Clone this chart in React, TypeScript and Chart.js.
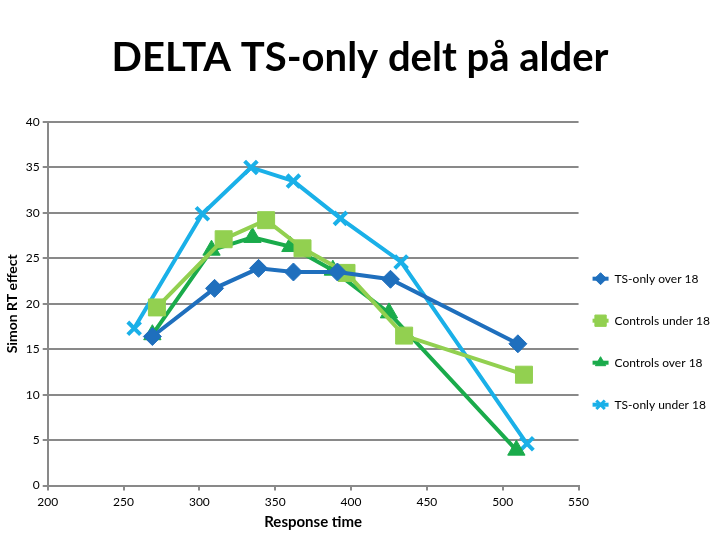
import { useEffect, useRef } from "react";
import Chart from "chart.js/auto";
import { drawPoint } from "chart.js/helpers";

const seriesNames = [
  "TS-only over 18",
  "Controls under 18",
  "Controls over 18",
  "TS-only under 18",
];

// response time (x) and Simon RT effect (y) for each group
const tsOver18X = [269, 310, 339, 362, 391, 426, 510];
const tsOver18Y = [16.4, 21.7, 23.9, 23.5, 23.5, 22.7, 15.6];

const ctrlUnder18X = [272, 316, 344, 368, 397, 435, 514];
const ctrlUnder18Y = [19.6, 27.1, 29.2, 26.1, 23.4, 16.5, 12.2];

const ctrlOver18X = [269, 308, 335, 360, 388, 425, 509];
const ctrlOver18Y = [16.6, 25.9, 27.3, 26.3, 23.7, 19.0, 3.9];

const tsUnder18X = [257, 302, 334, 362, 393, 433, 516];
const tsUnder18Y = [17.3, 29.9, 35.0, 33.5, 29.4, 24.6, 4.6];

const xTicks = [200, 250, 300, 350, 400, 450, 500, 550];
const yTicks = [0, 5, 10, 15, 20, 25, 30, 35, 40];

const toPoints = (xs: number[], ys: number[]) =>
  xs.map((x, i) => ({ x, y: ys[i] }));

// legend boxes are left empty by Chart.js, this draws the excel-like
// "line + marker" sample in each of them
const legendMarkers = {
  id: "legendMarkers",
  afterDraw(chart: any) {
    const legend = chart.legend;
    if (!legend || !legend.legendHitBoxes) return;
    const ctx = chart.ctx;
    const boxW = legend.options.labels.boxWidth;
    legend.legendItems.forEach((item: any, i: number) => {
      const hb = legend.legendHitBoxes[i];
      const ds = chart.data.datasets[item.datasetIndex];
      const cy = hb.top + hb.height / 2;
      const cx = hb.left + boxW / 2;
      ctx.save();
      ctx.strokeStyle = ds.borderColor;
      ctx.lineWidth = 4;
      ctx.beginPath();
      ctx.moveTo(hb.left, cy);
      ctx.lineTo(hb.left + boxW, cy);
      ctx.stroke();
      ctx.fillStyle = ds.backgroundColor;
      ctx.strokeStyle = ds.borderColor;
      ctx.lineWidth = ds.pointStyle === "crossRot" ? 3 : 1;
      drawPoint(ctx, {
        pointStyle: ds.pointStyle,
        radius: ds.pointStyle === "rect" ? 8 : 6,
        rotation: 0,
        borderWidth: ctx.lineWidth,
      }, cx, cy);
      ctx.restore();
    });
  },
};

export default function App() {
  const canvasRef = useRef<HTMLCanvasElement | null>(null);

  useEffect(() => {
    document.body.style.margin = "0";
    if (canvasRef.current == null) return;

    const font = "Lato, 'Open Sans', sans-serif";
    const chart = new Chart(canvasRef.current, {
      type: "scatter",
      plugins: [legendMarkers],
      data: {
        datasets: [
          {
            label: seriesNames[0],
            data: toPoints(tsOver18X, tsOver18Y),
            borderColor: "#1f6fbd",
            backgroundColor: "#1f6fbd",
            pointStyle: "rectRot",
            pointRadius: 9,
          },
          {
            label: seriesNames[1],
            data: toPoints(ctrlUnder18X, ctrlUnder18Y),
            borderColor: "#92d050",
            backgroundColor: "#92d050",
            pointStyle: "rect",
            pointRadius: 12,
          },
          {
            label: seriesNames[2],
            data: toPoints(ctrlOver18X, ctrlOver18Y),
            borderColor: "#1aab4b",
            backgroundColor: "#1aab4b",
            pointStyle: "triangle",
            pointRadius: 10,
          },
          {
            label: seriesNames[3],
            data: toPoints(tsUnder18X, tsUnder18Y),
            borderColor: "#1ab0e8",
            backgroundColor: "#1ab0e8",
            pointStyle: "crossRot",
            pointRadius: 9,
            pointBorderWidth: 4,
          },
        ].map((d) => ({
          showLine: true,
          borderWidth: 4,
          pointBorderWidth: 1,
          ...d,
        })),
      },
      options: {
        animation: false,
        responsive: false,
        layout: { padding: { left: 0, right: 0, top: 0, bottom: 5 } },
        plugins: {
          title: {
            display: true,
            text: "DELTA TS-only delt på alder",
            color: "#000",
            font: { family: font, size: 40, weight: "bold" },
            padding: { top: 34, bottom: 40 },
          },
          legend: {
            position: "right",
            align: "center",
            title: {
              display: true,
              text: " ",
              padding: { top: 67, bottom: 67 },
            },
            labels: {
              usePointStyle: false,
              boxWidth: 16,
              boxHeight: 28,
              color: "#000",
              font: { family: font, size: 12 },
              padding: 14,
              generateLabels: (c: any) =>
                c.data.datasets.map((ds: any, i: number) => ({
                  text: ds.label,
                  fillStyle: "rgba(0,0,0,0)",
                  strokeStyle: "rgba(0,0,0,0)",
                  lineWidth: 0,
                  fontColor: "#000",
                  hidden: false,
                  datasetIndex: i,
                })),
            },
          },
          tooltip: { enabled: false },
        },
        scales: {
          x: {
            type: "linear",
            min: 200,
            max: 550,
            afterBuildTicks: (axis: any) => {
              axis.ticks = xTicks.map((v) => ({ value: v }));
            },
            grid: {
              display: true,
              drawOnChartArea: false,
              drawTicks: true,
              tickLength: 5,
              color: "#898989",
              lineWidth: 2,
            },
            border: { color: "#898989", width: 2 },
            ticks: {
              color: "#000",
              font: { family: font, size: 12 },
              padding: 4,
            },
            title: {
              display: true,
              text: "Response time",
              color: "#000",
              font: { family: font, size: 15, weight: "bold" },
              padding: { top: 0 },
            },
          },
          y: {
            type: "linear",
            min: 0,
            max: 40,
            afterBuildTicks: (axis: any) => {
              axis.ticks = yTicks.map((v) => ({ value: v }));
            },
            grid: {
              color: "#898989",
              lineWidth: 2,
              tickLength: 5,
            },
            border: { color: "#898989", width: 2 },
            ticks: {
              color: "#000",
              font: { family: font, size: 12 },
              padding: 3,
            },
            title: {
              display: true,
              text: "Simon RT effect",
              color: "#000",
              font: { family: font, size: 14, weight: "bold" },
              padding: { bottom: 2 },
            },
          },
        },
      },
    });

    return () => {
      chart.destroy();
    };
  }, []);

  return (
    <div style={{ width: 720, height: 540, background: "#fff" }}>
      <canvas ref={canvasRef} width={720} height={540}></canvas>
    </div>
  );
}
